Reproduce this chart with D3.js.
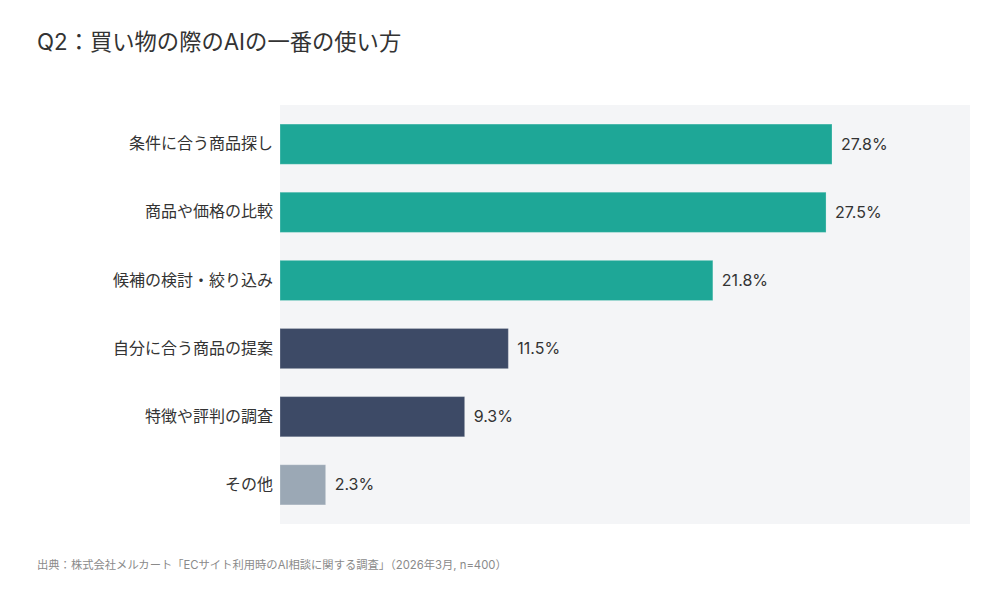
<!DOCTYPE html>
<html>
<head>
<meta charset="utf-8">
<script src="https://cdn.jsdelivr.net/npm/d3@7"></script>
<style>
  body { margin: 0; background: #fff; }
  svg text { font-family: Inter, "Noto Sans CJK JP", sans-serif; }
</style>
</head>
<body>
<div id="chart"></div>
<script>
// chart data
const categories = ["条件に合う商品探し", "商品や価格の比較", "候補の検討・絞り込み", "自分に合う商品の提案", "特徴や評判の調査", "その他"];
const values = [27.8, 27.5, 21.8, 11.5, 9.3, 2.3];
const groups = ["top", "top", "top", "mid", "mid", "other"];

const titleText = "Q2：買い物の際のAIの一番の使い方";
const sourceText = "出典：株式会社メルカート「ECサイト利用時のAI相談に関する調査」（2026年3月, n=400）";

const colors = { top: "#1ea797", mid: "#3d4a66", other: "#9ba8b5" };

// make viz
drawChart();

function drawChart() {
    const width = 1000, height = 597;
    const plot = { left: 280, right: 970, top: 105, bottom: 524 };

    const svg = d3.select("#chart")
        .append("svg")
        .attr("width", width)
        .attr("height", height);

    // title
    svg.append("text")
        .attr("x", 37)
        .attr("y", 50)
        .attr("font-size", 22.3)
        .attr("fill", "#333")
        .text(titleText);

    // scales
    const x = d3.scaleLinear()
        .domain([0, d3.max(values) * 1.25])
        .range([plot.left, plot.right]);
    const y = d3.scaleBand()
        .domain(categories)
        .range([plot.top, plot.bottom])
        .paddingInner(0.41)
        .paddingOuter(0.28);

    // plot background
    svg.append("rect")
        .attr("x", plot.left)
        .attr("y", plot.top)
        .attr("width", plot.right - plot.left)
        .attr("height", plot.bottom - plot.top)
        .attr("fill", "#f4f5f7");

    const rows = categories.map((c, i) => ({ cat: c, val: values[i], grp: groups[i] }));

    // bars
    svg.selectAll(".bar")
        .data(rows)
        .enter()
        .append("rect")
        .attr("class", "bar")
        .attr("x", x(0))
        .attr("y", d => y(d.cat))
        .attr("width", d => x(d.val) - x(0))
        .attr("height", y.bandwidth())
        .attr("fill", d => colors[d.grp])
        .attr("stroke", "#fff")
        .attr("stroke-opacity", 0.25)
        .attr("stroke-width", 1);

    // value labels
    svg.selectAll(".val")
        .data(rows)
        .enter()
        .append("text")
        .attr("class", "val")
        .attr("x", d => x(d.val) + 9)
        .attr("y", d => y(d.cat) + y.bandwidth() / 2)
        .attr("dy", "0.35em")
        .attr("font-size", 16)
        .attr("fill", "#333")
        .text(d => d.val.toFixed(1) + "%");

    // category labels
    const yAxis = svg.append("g")
        .attr("transform", "translate(" + plot.left + ",0)")
        .call(d3.axisLeft(y).tickSize(0).tickPadding(7));
    yAxis.select(".domain").remove();
    yAxis.selectAll("text")
        .attr("font-size", 16)
        .attr("fill", "#333")
        .style("font-family", "Inter, \"Noto Sans CJK JP\", sans-serif");

    // source note
    svg.append("text")
        .attr("x", 37)
        .attr("y", 569)
        .attr("font-size", 11.3)
        .attr("fill", "#8a8a8a")
        .text(sourceText);
}
</script>
</body>
</html>
